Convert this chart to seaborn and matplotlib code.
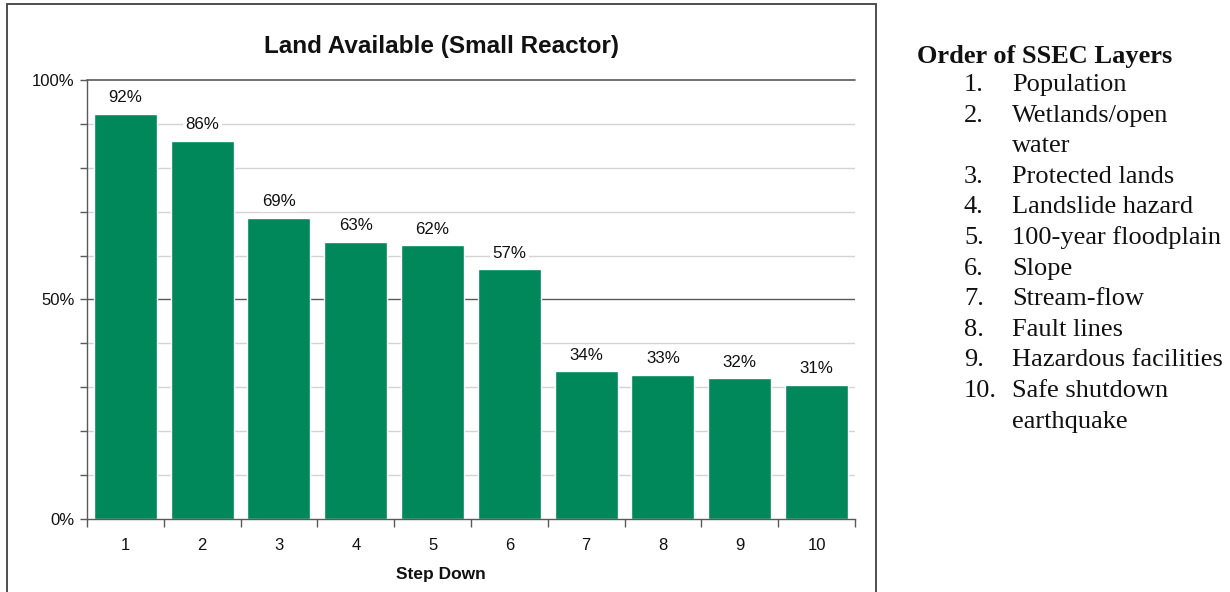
import numpy as np
import pandas as pd
import matplotlib
matplotlib.use("Agg")
import matplotlib.pyplot as plt
import seaborn as sns
from matplotlib.patches import Rectangle
from matplotlib.ticker import MultipleLocator, FixedLocator, PercentFormatter

# ---- data ----
steps = ["1", "2", "3", "4", "5", "6", "7", "8", "9", "10"]
land_available = [0.923, 0.861, 0.686, 0.631, 0.624, 0.569, 0.337, 0.329, 0.321, 0.306]

layer_title = "Order of SSEC Layers"
layer_numbers = ["1.", "2.", "", "3.", "4.", "5.", "6.", "7.", "8.", "9.", "10.", ""]
layer_names = ["Population", "Wetlands/open", "water", "Protected lands",
               "Landslide hazard", "100-year floodplain", "Slope", "Stream-flow",
               "Fault lines", "Hazardous facilities", "Safe shutdown", "earthquake"]

BAR_COLOR = "#00875A"
MAJOR_GRID = "#595959"
MINOR_GRID = "#d4d4d4"
TEXT = "#111111"

df = pd.DataFrame({"step": steps, "available": land_available})

sns.set_style("white")
plt.rcParams["font.family"] = ["Liberation Sans", "DejaVu Sans"]
plt.rcParams["text.color"] = TEXT
plt.rcParams["xtick.labelcolor"] = TEXT
plt.rcParams["ytick.labelcolor"] = TEXT

fig = plt.figure(figsize=(12.3, 5.92), dpi=100)
ax = fig.add_axes([0.0707, 0.1233, 0.6244, 0.7417])

sns.barplot(data=df, x="step", y="available", order=steps,
            color=BAR_COLOR, saturation=1, width=0.82, ax=ax, zorder=3)

ax.set_ylim(0, 1)
ax.set_xlim(-0.5, len(steps) - 0.5)

# y ticks: labels at 0/50/100, marks every 10%
ax.yaxis.set_major_locator(FixedLocator([0, 0.5, 1.0]))
ax.yaxis.set_minor_locator(MultipleLocator(0.1))
ax.yaxis.set_major_formatter(PercentFormatter(1.0, decimals=0))
ax.tick_params(axis="y", which="both", left=True, length=5, width=1,
               color=MAJOR_GRID, direction="out", labelsize=12, pad=4)

# x ticks: labels at centres, marks at category boundaries
ax.xaxis.set_minor_locator(FixedLocator(np.arange(-0.5, len(steps), 1.0)))
ax.tick_params(axis="x", which="major", bottom=False, length=0,
               labelsize=12, pad=14)
ax.tick_params(axis="x", which="minor", bottom=True, length=6, width=1,
               color=MAJOR_GRID, direction="out")

# gridlines
for v in np.arange(0.1, 1.0, 0.1):
    if abs(v - 0.5) > 1e-6:
        ax.axhline(v, color=MINOR_GRID, lw=1, zorder=1)
ax.axhline(0.5, color=MAJOR_GRID, lw=1, zorder=1)
ax.axhline(1.0, color=MAJOR_GRID, lw=1.2, zorder=1, clip_on=False)

for side in ["top", "right"]:
    ax.spines[side].set_visible(False)
for side in ["left", "bottom"]:
    ax.spines[side].set_color(MAJOR_GRID)
    ax.spines[side].set_linewidth(1)
    ax.spines[side].set_zorder(4)

# value labels with white box over gridlines
for i, v in enumerate(land_available):
    ax.annotate(f"{v:.0%}", (i, v), xytext=(0, 11.5), textcoords="offset points",
                ha="center", va="center", fontsize=12.2, color=TEXT,
                zorder=5,
                bbox=dict(boxstyle="square,pad=0.15", fc="white", ec="none"))

ax.set_ylabel("")
ax.set_xlabel("")

# title and axis label are centred on the chart frame, not the plot area
fig.text(441 / 1230, 1 - 46 / 592, "Land Available (Small Reactor)",
         fontsize=17.5, fontweight="bold", ha="center", va="center")
fig.text(441 / 1230, 1 - 575 / 592, "Step Down",
         fontsize=12.5, fontweight="bold", ha="center", va="center")

# chart frame
fig.patches.append(Rectangle((7 / 1230, -0.01), (876 - 7) / 1230, 1 - 4 / 592 + 0.01,
                             transform=fig.transFigure, fill=False,
                             ec="#404040", lw=1.3))

# layer list on the right
serif = ["Liberation Serif", "DejaVu Serif"]
fig.text(917 / 1230, 1 - 56 / 592, layer_title, family=serif, fontsize=19,
         fontweight="bold", va="center", ha="left")
for k, (num, name) in enumerate(zip(layer_numbers, layer_names)):
    y = 1 - (85 + k * 30.6) / 592
    if num:
        fig.text(964 / 1230, y, num, family=serif, fontsize=19, va="center")
    fig.text(1012 / 1230, y, name, family=serif, fontsize=19, va="center")

fig.savefig("out.png", dpi=100)
